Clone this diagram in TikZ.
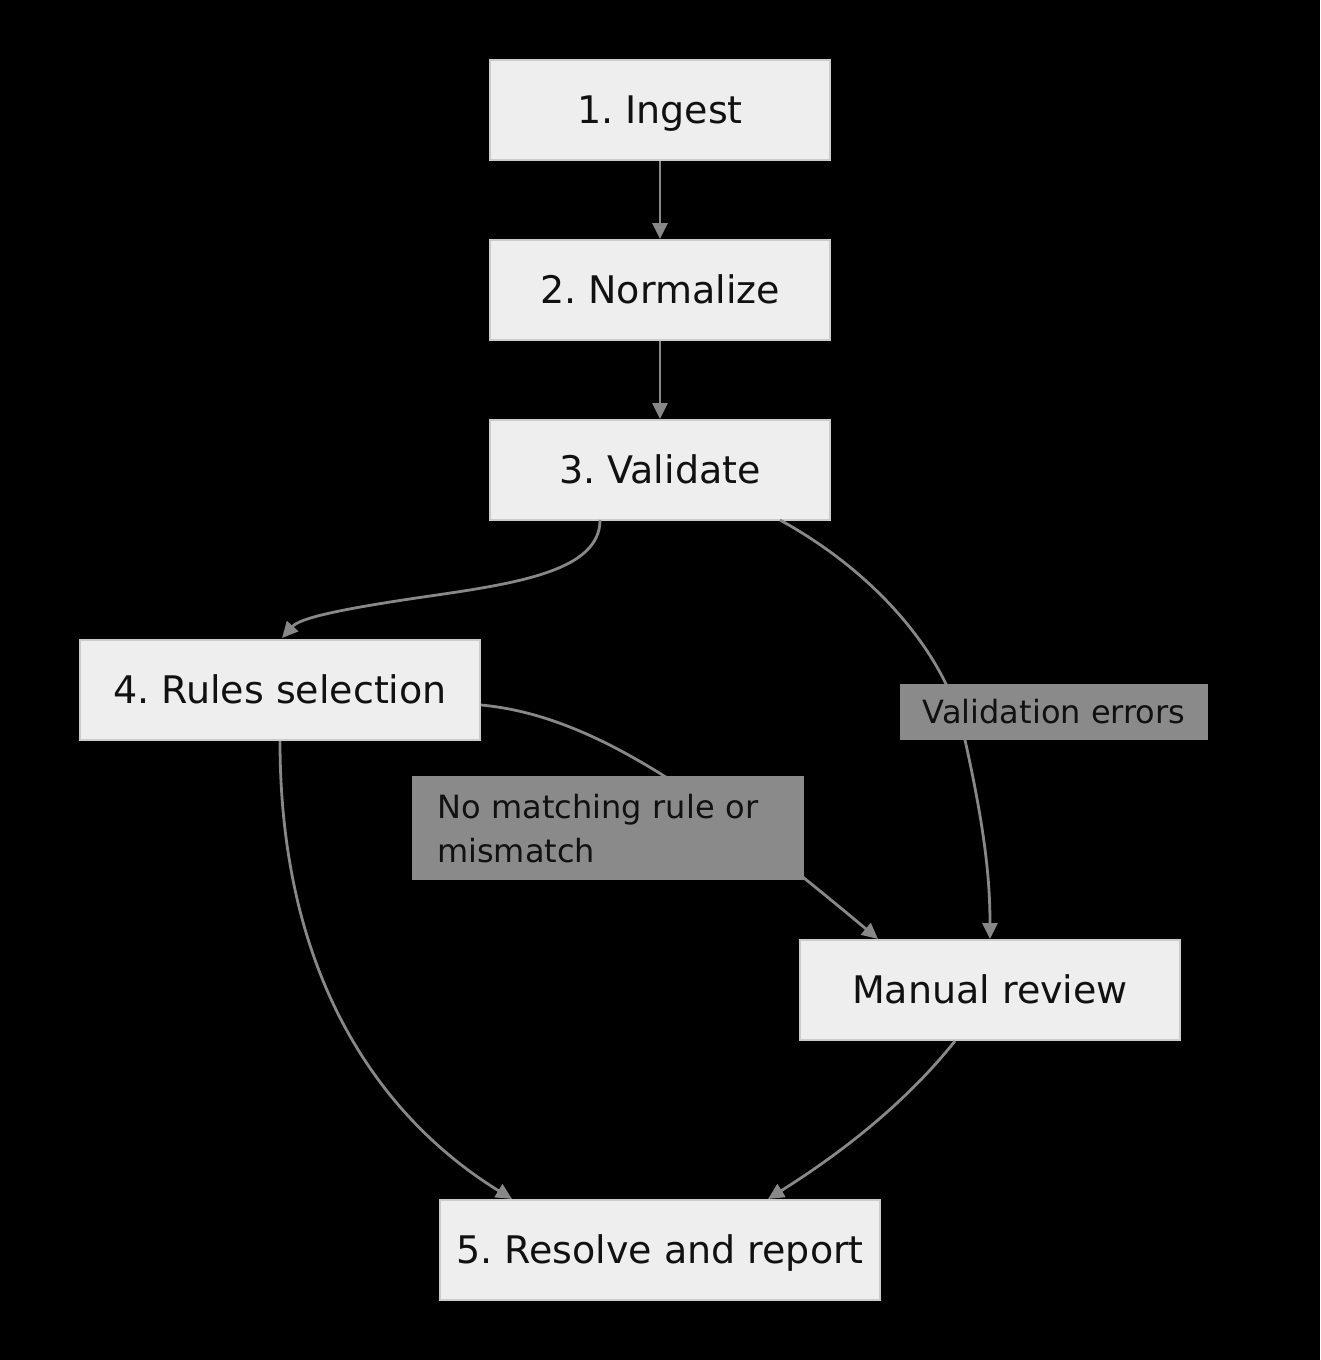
\documentclass[tikz,border=0pt]{standalone}
\usepackage{fontspec}
\setmainfont{DejaVu Sans}
\usetikzlibrary{arrows.meta}
\definecolor{nodefill}{HTML}{EEEEEE}
\definecolor{nodeline}{HTML}{CCCCCC}
\definecolor{edgecol}{HTML}{888888}
\definecolor{labfill}{HTML}{8A8A8A}
\definecolor{txt}{HTML}{111111}
\frenchspacing
\begin{document}
\begin{tikzpicture}[x=1pt,y=-1pt,
  stepbox/.style={draw=nodeline, line width=2pt, fill=nodefill, inner sep=0pt,
    minimum height=100pt, text=txt, text height=27.5pt, text depth=0pt,
    font=\fontsize{38}{42}\selectfont},
  lab/.style={fill=labfill, inner sep=0pt, text=txt, font=\fontsize{32}{44}\selectfont},
  edge/.style={draw=edgecol, line width=2.8pt, -{Triangle[length=16pt,width=15pt]}}
]
\fill[black] (0,0) rectangle (1320,1360);
\useasboundingbox (0,0) rectangle (1320,1360);

\node[stepbox, minimum width=340pt] (n1) at (660,110) {1. Ingest};
\node[stepbox, minimum width=340pt] (n2) at (660,290) {2. Normalize};
\node[stepbox, minimum width=340pt] (n3) at (660,470) {3. Validate};
\node[stepbox, minimum width=400pt] (n4) at (280,690) {4. Rules selection};
\node[stepbox, minimum width=380pt] (mr) at (990,990) {Manual review};
\node[stepbox, minimum width=440pt] (n5) at (660,1250) {5. Resolve and report};

\coordinate (n3a) at (600,520);
\coordinate (n3b) at (780,520);
\coordinate (n4in) at (282,638);
\coordinate (n4r) at (481,705);
\coordinate (n4b) at (280,741);
\coordinate (mrin1) at (990,939);
\coordinate (mrin2) at (878,939);
\coordinate (mrb) at (955,1041);
\coordinate (n5in1) at (512,1199);
\coordinate (n5in2) at (768,1199);

\draw[edge] (n1.south) -- (n2.north);
\draw[edge] (n2.south) -- (n3.north);
\draw[edge] (n3a) .. controls (600,570) and (520,583) .. (430,596)
  .. controls (340,609) and (300,618) .. (n4in);
\draw[edge] (n3b) .. controls (880,575) and (950,660) .. (965,740)
  .. controls (985,830) and (990,880) .. (mrin1);
\draw[edge] (n4r) .. controls (590,715) and (700,790) .. (mrin2);
\draw[edge] (n4b) .. controls (280,1000) and (400,1130) .. (n5in1);
\draw[edge] (mrb) .. controls (900,1110) and (830,1160) .. (n5in2);

\node[lab, minimum width=308pt, minimum height=56pt] (lv) at (1054,712) {Validation errors};
\node[lab, anchor=north west, text width=342pt, inner xsep=25pt, minimum height=104pt, align=left] (lm) at (412,776) {No matching rule or\\mismatch};
\end{tikzpicture}
\end{document}
